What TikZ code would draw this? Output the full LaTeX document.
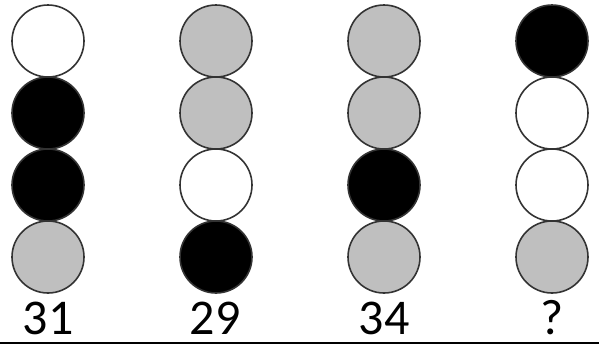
\documentclass[tikz,border=0pt]{standalone}
\usepackage{fontspec}
\setmainfont{Carlito}
\begin{document}
\begin{tikzpicture}[x=1pt,y=-1pt,
  ball/.style={circle,draw=black!80,line width=1.6pt,minimum size=72pt,inner sep=0pt},
  wb/.style={ball,fill=white},
  kb/.style={ball,fill=black},
  gb/.style={ball,fill={rgb,255:red,191;green,191;blue,191}},
  lbl/.style={font=\fontsize{50}{50}\selectfont,anchor=base,inner sep=0pt}]
\useasboundingbox (0,0) rectangle (599,346);
% column 1
\node[wb] (a1) at (48,41) {};
\node[kb] (a2) at (48,113) {};
\node[kb] (a3) at (48,185) {};
\node[gb] (a4) at (48,257) {};
% column 2
\node[gb] (b1) at (216,41) {};
\node[gb] (b2) at (216,113) {};
\node[wb] (b3) at (216,185) {};
\node[kb] (b4) at (216,257) {};
% column 3
\node[gb] (c1) at (384,41) {};
\node[gb] (c2) at (384,113) {};
\node[kb] (c3) at (384,185) {};
\node[gb] (c4) at (384,257) {};
% column 4
\node[kb] (d1) at (552,41) {};
\node[wb] (d2) at (552,113) {};
\node[wb] (d3) at (552,185) {};
\node[gb] (d4) at (552,257) {};
% labels
\node[lbl] (l1) at (48,334) {31};
\node[lbl] (l2) at (215,334) {29};
\node[lbl] (l3) at (384,334) {34};
\node[lbl] (l4) at (552,334) {?};
\coordinate (s) at (0,343);
\coordinate (e) at (599,343);
\draw[line width=2.4pt] (s) -- (e);
\end{tikzpicture}
\end{document}
